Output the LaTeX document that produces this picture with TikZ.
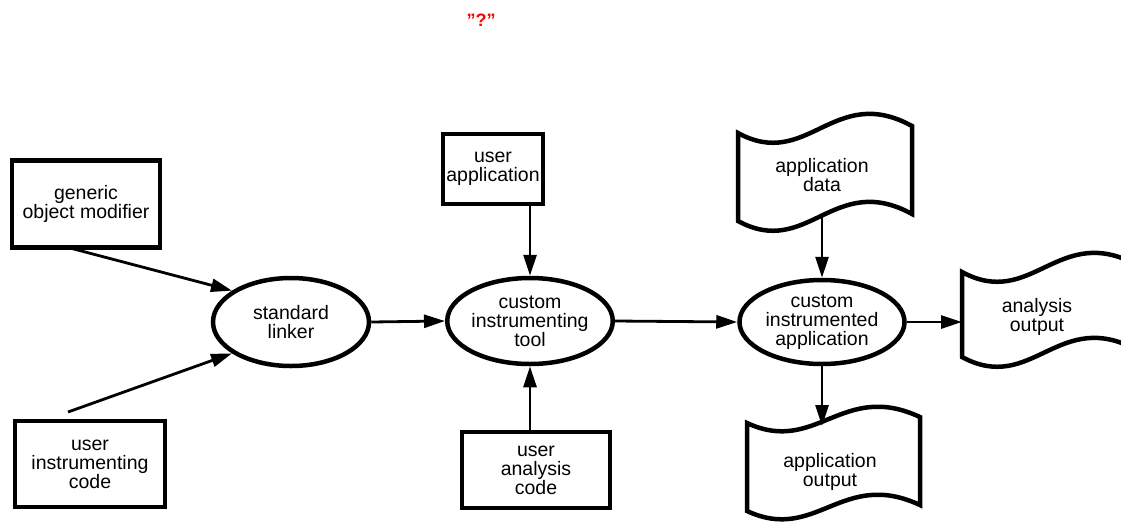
\documentclass[tikz,border=0pt]{standalone}
\usepackage{fontspec}
\setmainfont{Liberation Sans}
\usetikzlibrary{arrows.meta,shapes.geometric}
\newcommand\lblfont{\fontsize{19.5}{19}\selectfont}
\tikzset{
  box/.style={draw, line width=4.5pt, rectangle, inner sep=0pt, align=center, font=\lblfont},
  oval/.style={draw, line width=4.5pt, ellipse, inner sep=0pt, align=center, font=\lblfont},
  lbl/.style={align=center, font=\lblfont, inner sep=0pt},
  arr/.style={line width=2.8pt, -{Triangle[length=21pt,width=13pt]}},
  wavestyle/.style={draw, line width=4.5pt, line join=miter}
}
% wave (document) shape: x0, y0, w, h, amplitude
\newcommand\wavedoc[5]{%
  \draw[wavestyle] (#1,#2) .. controls ({#1+0.4*#3},{#2+38*#5}) and ({#1+0.55*#3},{#2-50*#5}) .. ({#1+#3},{#2-7*#5})
    -- ({#1+#3},{#2-7*#5+#4})
    .. controls ({#1+0.55*#3},{#2-50*#5+#4}) and ({#1+0.4*#3},{#2+38*#5+#4}) .. (#1,{#2+#4}) -- cycle;}
\begin{document}
\begin{tikzpicture}[x=1pt,y=-1pt]
\useasboundingbox (0,0) rectangle (1121,523);
\begin{scope}
\clip (0,0) rectangle (1121,523);

% title
\node[text=red, font=\fontsize{18}{18}\selectfont\bfseries, inner sep=0pt] (title) at (481,20) {\symbol{34}?\symbol{34}};

% boxes
\node[box, minimum width=148pt, minimum height=87pt] (gen) at (86,204) {generic\\object modifier};
\node[box, minimum width=150pt, minimum height=86pt] (uic) at (90,464) {user\\instrumenting\\code};
\node[box, minimum width=100pt, minimum height=70pt] (uapp) at (493,169) {user\\application};
\node[box, minimum width=148pt, minimum height=76pt] (uan) at (536,470) {user\\analysis\\code};

% ellipses
\node[oval, minimum width=156pt, minimum height=88pt] (linker) at (291,322) {standard\\linker};
\node[oval, minimum width=164pt, minimum height=86pt] (tool) at (530,321) {custom\\instrumenting\\tool};
\node[oval, minimum width=165pt, minimum height=84pt] (iapp) at (822,322) {custom\\instrumented\\application};

% wave documents
\wavedoc{738}{133}{174}{88}{1}
\node[lbl] (adata) at (822,175) {application\\data};
\wavedoc{962}{272}{175}{85}{1}
\node[lbl] (aout) at (1037,317) {analysis\\output};
\wavedoc{747}{423}{173}{88}{0.85}
\node[lbl] (apout) at (830,472) {application\\output};

% connector end points
\coordinate (g1) at (70,248);
\coordinate (u1) at (68,412);
\coordinate (adb) at (822,216);
\coordinate (apt) at (822,426);
\coordinate (aol) at (962,322);

% connectors
\draw[arr] (g1) -- (linker.152);
\draw[arr] (u1) -- (linker.208);
\draw[arr] (linker.east) -- (tool.west);
\draw[arr] (tool.north |- uapp.south) -- (tool.north);
\draw[arr] (tool.south |- uan.north) -- (tool.south);
\draw[arr] (tool.east) -- (iapp.west);
\draw[arr] (adb) -- (iapp.north);
\draw[arr] (iapp.south) -- (apt);
\draw[arr] (iapp.east) -- (aol);
\end{scope}
\end{tikzpicture}
\end{document}
